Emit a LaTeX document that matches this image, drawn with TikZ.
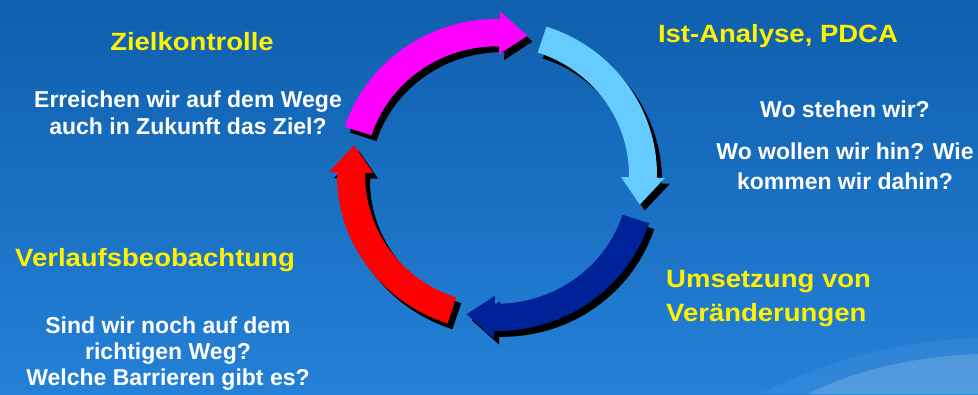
\documentclass[tikz,border=0pt]{standalone}
\usepackage{fontspec}
\setmainfont{Liberation Sans}
\newfontfamily\titlefont{Liberation Sans}[FakeStretch=1.1]
\usetikzlibrary{positioning}
\definecolor{bgtop}{RGB}{15,95,173}
\definecolor{bgbottom}{RGB}{36,129,216}
\definecolor{zielmagenta}{RGB}{255,0,255}
\definecolor{istblue}{RGB}{102,204,255}
\definecolor{umsnavy}{RGB}{0,34,153}
\definecolor{verlred}{RGB}{255,0,0}
\tikzset{
    titletext/.style={text=yellow, inner sep=0pt, anchor=base, align=left,
        font=\titlefont\bfseries\fontsize{25}{35}\selectfont},
    questiontext/.style={text=white, inner sep=0pt, anchor=base, align=center,
        font=\bfseries\fontsize{23}{27}\selectfont}
}
% ring segment: start angle, head base angle, tip angle
\newcommand{\ringpath}[3]{(#1:160) arc[start angle=#1, end angle=#2, radius=160]
    -- (#2:168) -- (#3:146) -- (#2:124) -- (#2:132)
    arc[start angle=#2, end angle=#1, radius=132] -- cycle}

\begin{document}
\begin{tikzpicture}[x=1pt, y=1pt]
    % --- BACKGROUND ---
    \shade[top color=bgtop, bottom color=bgbottom] (0,0) rectangle (978,394);
    \useasboundingbox (0,0) rectangle (978,394);
    \fill[white, opacity=0.06] (760,0) .. controls (840,40) and (910,54) .. (978,56) -- (978,0) -- cycle;
    \fill[white, opacity=0.17] (808,0) .. controls (860,26) and (915,37) .. (978,40) -- (978,0) -- cycle;

    % --- CYCLE ---
    \begin{scope}[shift={(497,219)}, y=0.975pt]
        \foreach \s/\c [evaluate=\s as \b using \s-73, evaluate=\s as \e using \s-84]
            in {162/zielmagenta, 72/istblue, -18/umsnavy, -108/verlred} {
            \fill[black, shift={(5,-6)}] \ringpath{\s}{\b}{\e};
            \fill[\c] \ringpath{\s}{\b}{\e};
        }
    \end{scope}

    % --- TEXTS (base = last line) ---
    \node[titletext] (ziel) at (192,343) {Zielkontrolle};
    \node[questiontext] (zielq) at (188,259) {Erreichen wir auf dem Wege\\auch in Zukunft das Ziel?};

    \node[titletext] (ist) at (778,351) {Ist-Analyse, PDCA};
    \node[questiontext] (istq) at (845,276) {Wo stehen wir?};
    \node[questiontext, font=\bfseries\fontsize{23}{30}\selectfont] (istw) at (845,204)
        {Wo wollen wir hin? Wie\\kommen wir dahin?};

    \node[titletext, anchor=base west] (ums) at (666,72) {Umsetzung von\\Veränderungen};

    \node[titletext] (verl) at (155,127) {Verlaufsbeobachtung};
    \node[questiontext, font=\bfseries\fontsize{23}{26}\selectfont] (verlq) at (168,9)
        {Sind wir noch auf dem\\richtigen Weg?\\Welche Barrieren gibt es?};
\end{tikzpicture}
\end{document}
